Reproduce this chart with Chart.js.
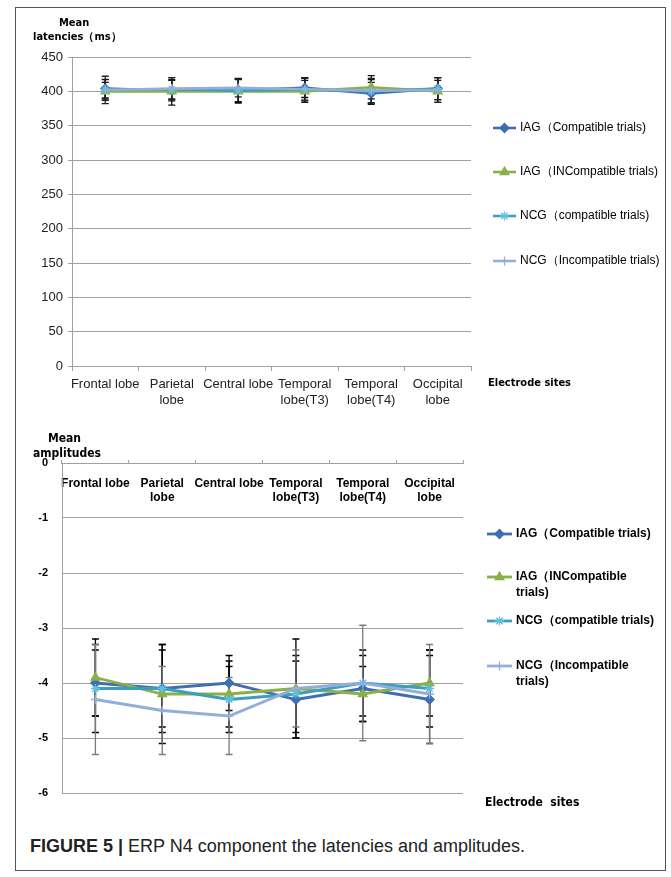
<!DOCTYPE html>
<html>
<head>
<meta charset="utf-8">
<script src="https://cdn.jsdelivr.net/npm/chart.js@4.4.1/dist/chart.umd.min.js"></script>
<style>
body { margin: 0; background: #fff; width: 671px; height: 877px; position: relative; overflow: hidden;
       font-family: "Liberation Sans Narrow", "DejaVu Sans Condensed", sans-serif; color: #000; }
#frame { position: absolute; left: 15px; top: 7px; width: 649px; height: 862px; border: 1px solid #555; }
canvas { position: absolute; }
#c1 { left: 15px; top: 8px; }
#c2 { left: 15px; top: 425px; }
.t { position: absolute; font-weight: bold; font-size: 11px; white-space: nowrap; line-height: 1; }
#caption { position: absolute; left: 30px; top: 836px; font-family: "Liberation Sans", Arial, sans-serif;
           font-size: 18px; color: #222; white-space: nowrap; }
</style>
</head>
<body>
<div id="frame"></div>
<canvas id="c1" width="650" height="412"></canvas>
<canvas id="c2" width="650" height="390"></canvas>

<div class="t" style="left:59px;top:17px;">Mean</div>
<div class="t" style="left:33px;top:31px;">latencies（ms）</div>
<div class="t" style="left:488px;top:377px;">Electrode sites</div>

<div class="t" style="left:48px;top:432px;font-size:12px;">Mean</div>
<div class="t" style="left:33px;top:447px;font-size:12px;">amplitudes</div>
<div class="t" style="left:485px;top:796px;font-size:12px;">Electrode&nbsp; sites</div>

<div id="caption"><b>FIGURE 5 |</b> ERP N4 component the latencies and amplitudes.</div>

<script>
// electrode sites (x categories)
SITES = [['Frontal lobe'], ['Parietal', 'lobe'], ['Central lobe'], ['Temporal', 'lobe(T3)'], ['Temporal', 'lobe(T4)'], ['Occipital', 'lobe']]

SERIES_NAMES = ['IAG（Compatible trials)', 'IAG（INCompatible trials)', 'NCG（compatible trials)', 'NCG（Incompatible trials)']
LEGEND_LINES_BOTTOM = [['IAG（Compatible trials)'], ['IAG（INCompatible', 'trials)'], ['NCG（compatible trials)'], ['NCG（Incompatible', 'trials)']]

// mean latencies (ms) + error
LAT_IAG_COMP = [404, 401, 402, 405, 397, 404]
LAT_IAG_INC = [400, 400, 400, 400, 406, 400]
LAT_NCG_COMP = [403, 403, 401, 403, 400, 404]
LAT_NCG_INC = [402, 404, 405, 403, 401, 402]
LAT_ERR_IAG_COMP = [13.5, 15, 17, 14, 16, 16]
LAT_ERR_IAG_INC = [13, 20, 17, 16, 17, 16]
LAT_ERR_NCG_COMP = [14, 14, 17, 17, 17, 16]
LAT_ERR_NCG_INC = [20, 16, 13, 16, 18, 18]

// mean amplitudes + error
AMP_IAG_COMP = [-4.0, -4.1, -4.0, -4.3, -4.1, -4.3]
AMP_IAG_INC = [-3.9, -4.2, -4.2, -4.1, -4.2, -4.0]
AMP_NCG_COMP = [-4.1, -4.1, -4.3, -4.2, -4.0, -4.1]
AMP_NCG_INC = [-4.3, -4.5, -4.6, -4.1, -4.0, -4.2]
AMP_ERR_IAG_COMP = [0.6, 0.7, 0.5, 0.7, 0.6, 0.8]
AMP_ERR_IAG_INC = [0.7, 0.9, 0.6, 0.9, 0.5, 0.6]
AMP_ERR_NCG_COMP = [0.8, 0.8, 0.6, 0.7, 0.6, 0.7]
AMP_ERR_NCG_INC = [1.0, 0.8, 0.7, 0.7, 1.05, 0.9]

COLORS = ['#3F6EB2', '#8BB04A', '#3C9DC0', '#93AEDB']
MARKER_FILL = ['#3F6EB2', '#8BB04A', '#5BC3E0', '#93AEDB']
MARKERS = ['rectRot', 'triangle', 'star', 'cross']
GRID = '#A0A0A0'

function makeDatasets(values, errors, errColors, lineWidth)
{
    var out = []
    for (let i = 0; i < values.length; i++) {
        out.push({
            label: SERIES_NAMES[i],
            data: values[i],
            errors: errors[i],
            errorColor: errColors[i],
            borderColor: COLORS[i],
            backgroundColor: MARKER_FILL[i],
            borderWidth: lineWidth,
            pointStyle: MARKERS[i],
            pointRadius: i == 1 ? 5 : 4.5,
            pointBorderColor: MARKER_FILL[i],
            pointBackgroundColor: MARKER_FILL[i],
            pointBorderWidth: 1.3,
            tension: 0,
            order: values.length - i  // later series on top, like excel
        })
    }
    return out
}

// vertical error bars, drawn under the lines
const errorBars = {
    id: 'errorBars',
    beforeDatasetsDraw(chart) {
        const ctx = chart.ctx
        const y = chart.scales.y
        chart.data.datasets.forEach((ds, i) => {
            const meta = chart.getDatasetMeta(i)
            ctx.save()
            ctx.strokeStyle = ds.errorColor
            ctx.lineWidth = 1.3
            meta.data.forEach((pt, j) => {
                const e = ds.errors[j]
                const top = y.getPixelForValue(ds.data[j] + e)
                const bot = y.getPixelForValue(ds.data[j] - e)
                ctx.beginPath()
                ctx.moveTo(pt.x, top); ctx.lineTo(pt.x, bot)
                ctx.moveTo(pt.x - 3.5, top); ctx.lineTo(pt.x + 3.5, top)
                ctx.moveTo(pt.x - 3.5, bot); ctx.lineTo(pt.x + 3.5, bot)
                ctx.stroke()
            })
            ctx.restore()
        })
    }
}

// excel style legend on the right, items spread out
const sideLegend = {
    id: 'sideLegend',
    afterDraw(chart, args, opts) {
        const ctx = chart.ctx
        chart.data.datasets.forEach((ds, i) => {
            const y = opts.y[i]
            ctx.save()
            ctx.strokeStyle = ds.borderColor
            ctx.lineWidth = ds.borderWidth
            ctx.beginPath()
            ctx.moveTo(opts.x, y); ctx.lineTo(opts.x + opts.len, y)
            ctx.stroke()
            ctx.strokeStyle = ds.pointBorderColor
            ctx.fillStyle = ds.pointBackgroundColor
            ctx.lineWidth = ds.pointBorderWidth
            Chart.helpers.drawPoint(ctx, {pointStyle: ds.pointStyle, radius: ds.pointRadius, rotation: 0, borderWidth: ds.pointBorderWidth}, opts.x + opts.len / 2, y)
            ctx.fillStyle = '#000'
            ctx.font = opts.font
            ctx.textBaseline = 'middle'
            ctx.textAlign = 'left'
            opts.lines[i].forEach((txt, k) => ctx.fillText(txt, opts.x + opts.len + 4, y + k * opts.lineHeight))
            ctx.restore()
        })
    }
}

function setWidth(w) { return function(scale) { scale.width = w } }
function setHeight(h) { return function(scale) { scale.height = h } }

// ---- top: latencies
new Chart('c1', {
    type: 'line',
    data: {
        labels: SITES,
        datasets: makeDatasets(
            [LAT_IAG_COMP, LAT_IAG_INC, LAT_NCG_COMP, LAT_NCG_INC],
            [LAT_ERR_IAG_COMP, LAT_ERR_IAG_INC, LAT_ERR_NCG_COMP, LAT_ERR_NCG_INC],
            ['#111', '#111', '#111', '#222'], 2.6)
    },
    plugins: [errorBars, sideLegend],
    options: {
        responsive: false,
        animation: false,
        devicePixelRatio: 1,
        layout: { padding: { left: 0, top: 49, right: 194, bottom: 0 } },
        plugins: {
            legend: { display: false },
            tooltip: { enabled: false },
            sideLegend: {
                x: 478, len: 23, y: [120, 164, 208, 253], lineHeight: 16,
                font: '12px "Liberation Sans Narrow", sans-serif',
                lines: SERIES_NAMES.map(s => [s])
            }
        },
        scales: {
            x: {
                offset: true,
                afterFit: setHeight(54),
                grid: { offset: true, drawOnChartArea: false, color: GRID, tickLength: 5 },
                border: { color: GRID },
                ticks: { color: '#222', padding: 6, maxRotation: 0, autoSkip: false,
                         font: { family: '"Liberation Sans Narrow", sans-serif', size: 13, lineHeight: 1.2 } }
            },
            y: {
                min: 0, max: 450,
                afterFit: setWidth(57),
                grid: { color: GRID, tickLength: 4 },
                border: { color: GRID },
                ticks: { stepSize: 50, color: '#222', padding: 5,
                         font: { family: '"Liberation Sans Narrow", sans-serif', size: 13 } }
            }
        }
    }
})

// ---- bottom: amplitudes, category axis sits on the 0 line
new Chart('c2', {
    type: 'line',
    data: {
        labels: SITES,
        datasets: makeDatasets(
            [AMP_IAG_COMP, AMP_IAG_INC, AMP_NCG_COMP, AMP_NCG_INC],
            [AMP_ERR_IAG_COMP, AMP_ERR_IAG_INC, AMP_ERR_NCG_COMP, AMP_ERR_NCG_INC],
            ['#000', '#000', '#000', '#7a7a7a'], 2.8)
    },
    plugins: [errorBars, sideLegend],
    options: {
        responsive: false,
        animation: false,
        devicePixelRatio: 1,
        layout: { padding: { left: 0, top: 38, right: 202, bottom: 22 } },
        plugins: {
            legend: { display: false },
            tooltip: { enabled: false },
            sideLegend: {
                x: 472, len: 25, y: [109, 152, 196, 241], lineHeight: 16,
                font: 'bold 12px "Liberation Sans Narrow", sans-serif',
                lines: LEGEND_LINES_BOTTOM
            }
        },
        scales: {
            x: {
                position: { y: 0 },
                offset: true,
                grid: { offset: true, drawOnChartArea: false, color: GRID, tickLength: -4 },
                border: { color: GRID },
                ticks: { color: '#000', padding: 17, maxRotation: 0, autoSkip: false,
                         font: { family: '"Liberation Sans Narrow", sans-serif', size: 12, weight: 'bold', lineHeight: 1.2 } }
            },
            y: {
                min: -6, max: 0,
                afterFit: setWidth(47),
                grid: { color: GRID, drawTicks: false },
                border: { color: GRID },
                ticks: { stepSize: 1, color: '#000', padding: 14,
                         font: { family: '"Liberation Sans Narrow", sans-serif', size: 11, weight: 'bold' } }
            }
        }
    }
})
</script>
</body>
</html>
